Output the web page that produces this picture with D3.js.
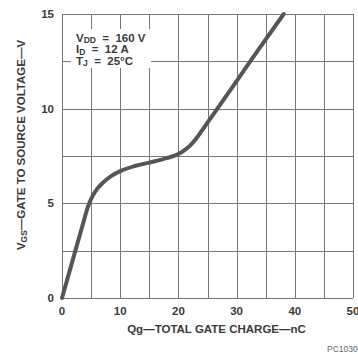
<!DOCTYPE html>
<meta charset="utf-8">
<style>
body { margin: 0; background: #fff; }
text { font-family: "Liberation Sans", Arial, sans-serif; font-weight: bold; fill: #3a3a3a; white-space: pre; }
.grid line { stroke: #777; stroke-width: 1px; shape-rendering: crispEdges; }
.curve { fill: none; stroke: #555; stroke-width: 4px; stroke-linejoin: round; stroke-linecap: round; }
</style>
<body>
<script src="https://d3js.org/d3.v7.min.js"></script>
<script>

// gate charge (nC) and gate-source voltage (V)
var charge  = [0, 1.15, 2.3, 3.5, 4.5, 5.2, 6, 7, 8.5, 10, 12.5, 15, 17.5, 20, 21, 22, 23, 24, 26, 30, 34, 38.1];
var voltage = [0, 1.25, 2.5, 3.8, 4.85, 5.35, 5.75, 6.08, 6.45, 6.7, 6.97, 7.15, 7.35, 7.6, 7.8, 8.05, 8.4, 8.82, 9.7, 11.46, 13.22, 15];

var xTicks = [0, 10, 20, 30, 40, 50];
var yTicks = [0, 5, 10, 15];
var xGrid = d3.range(0, 51, 5);
var yGrid = d3.range(0, 15.1, 2.5);

var margin = {top: 14, right: 5, bottom: 56, left: 62},
    width = 358 - margin.left - margin.right,
    height = 354 - margin.top - margin.bottom;

var x = d3.scaleLinear().domain([0, 50]).range([0, width]);
var y = d3.scaleLinear().domain([0, 15]).range([height, 0]);

var svg = d3.select("body").append("svg")
    .attr("width", 358)
    .attr("height", 354)
  .append("g")
    .attr("transform", "translate(" + margin.left + "," + margin.top + ")");

// grid
var grid = svg.append("g").attr("class", "grid");
grid.selectAll(".vx").data(xGrid).enter().append("line")
    .attr("x1", function(d) { return Math.round(x(d)) + 0.5; })
    .attr("x2", function(d) { return Math.round(x(d)) + 0.5; })
    .attr("y1", 0).attr("y2", height);
grid.selectAll(".hy").data(yGrid).enter().append("line")
    .attr("y1", function(d) { return Math.round(y(d)) + 0.5; })
    .attr("y2", function(d) { return Math.round(y(d)) + 0.5; })
    .attr("x1", 0).attr("x2", width);

// tick labels
svg.selectAll(".xt").data(xTicks).enter().append("text")
    .attr("x", function(d) { return x(d); })
    .attr("y", height + 17)
    .attr("text-anchor", "middle")
    .style("font-size", "11.5px")
    .text(function(d) { return d; });
svg.selectAll(".yt").data(yTicks).enter().append("text")
    .attr("x", -8)
    .attr("y", function(d) { return y(d) + 4; })
    .attr("text-anchor", "end")
    .style("font-size", "11.5px")
    .text(function(d) { return d; });

// conditions box
svg.append("rect")
    .attr("x", 9).attr("y", 15).attr("width", 80).attr("height", 39)
    .attr("fill", "#fff");
var cond = [["V", "DD", "  =  160 V"], ["I", "D", "  =  12 A"], ["T", "J", "  =  25\u00B0C"]];
cond.forEach(function(c, i) {
  var t = svg.append("text")
      .attr("x", 14)
      .attr("y", 27.5 + i * 11.5)
      .style("font-size", "11.5px");
  t.append("tspan").text(c[0]);
  t.append("tspan").attr("dy", 1.5).style("font-size", "8.5px").text(c[1]);
  t.append("tspan").attr("dy", -1.5).text(c[2]);
});

// curve
var pts = charge.map(function(c, i) { return [c, voltage[i]]; });
var line = d3.line()
    .x(function(d) { return x(d[0]); })
    .y(function(d) { return y(d[1]); })
    .curve(d3.curveMonotoneX);
svg.append("path").datum(pts).attr("class", "curve").attr("d", line);

// axis titles
svg.append("text")
    .attr("x", width / 2 + 9)
    .attr("y", height + 35)
    .attr("text-anchor", "middle")
    .style("font-size", "11.5px")
    .text("Qg\u2014TOTAL GATE CHARGE\u2014nC");

var yt = svg.append("text")
    .attr("transform", "translate(-37," + (131) + ") rotate(-90)")
    .attr("text-anchor", "middle")
    .style("font-size", "11.5px");
yt.append("tspan").text("V");
yt.append("tspan").attr("dy", 1.5).style("font-size", "8.5px").text("GS");
yt.append("tspan").attr("dy", -1.5).text("\u2014GATE TO SOURCE VOLTAGE\u2014V");

svg.append("text")
    .attr("x", 265)
    .attr("y", 338)
    .style("font-size", "8.5px")
    .style("font-weight", "normal")
    .style("fill", "#666")
    .text("PC1030");

</script>
</body>
